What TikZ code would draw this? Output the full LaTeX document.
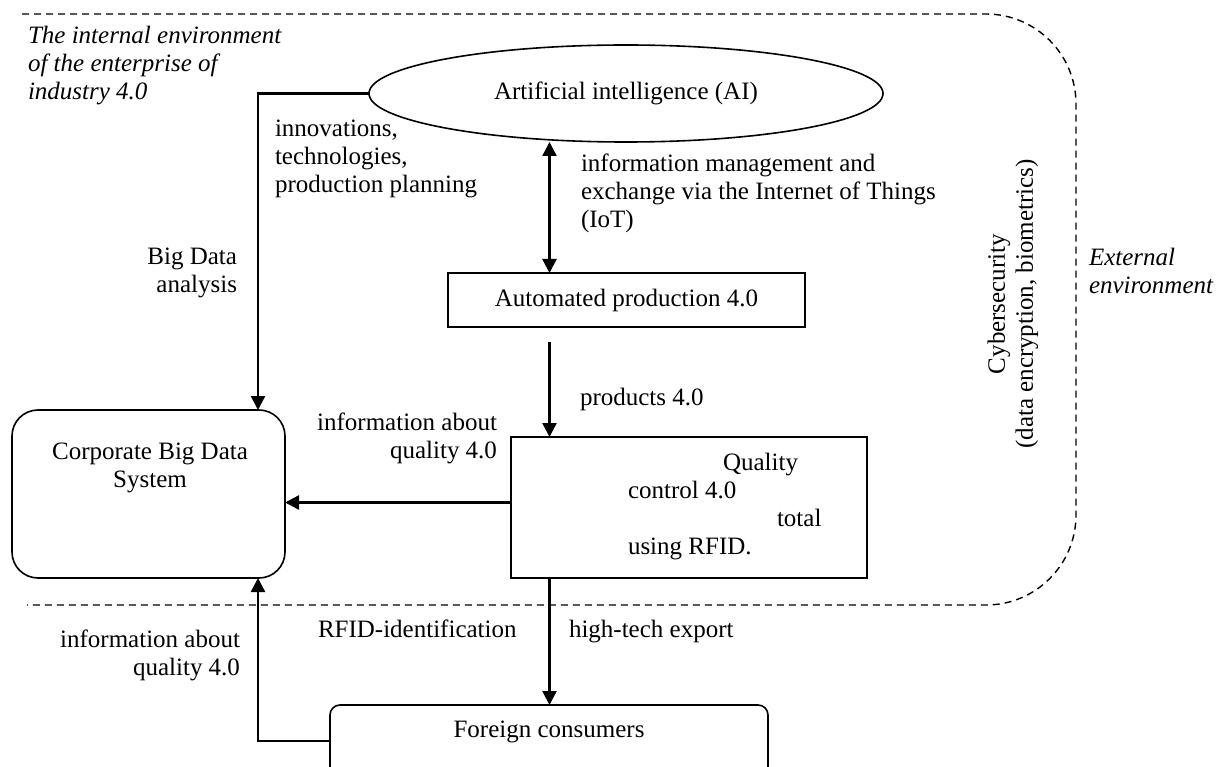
\documentclass[tikz,border=0pt]{standalone}
\usepackage{fontspec}
\setmainfont{Liberation Serif}
\usetikzlibrary{arrows.meta,shapes.geometric}
\begin{document}
\begin{tikzpicture}[x=1pt,y=-1pt,
  every node/.style={font=\fontsize{25}{28}\selectfont, inner sep=0pt, outer sep=0pt},
  frame/.style={draw, line width=1.6pt},
  conn/.style={line width=2.4pt},
  arr/.style={conn, -{Triangle[length=14pt,width=14pt]}},
  darr/.style={conn, {Triangle[length=14pt,width=14pt]}-{Triangle[length=14pt,width=14pt]}},
  envline/.style={line width=1.4pt, dash pattern=on 7pt off 5pt},
  italic/.style={font=\fontsize{25}{28}\selectfont\itshape},
]
\useasboundingbox (0,0) rectangle (1218,767);
% environment boundary
\draw[envline, rounded corners=90pt] (22,14) -- (1076,14) -- (1076,605) -- (27,605);
% helper coordinates
\coordinate (kx) at (258,0);
\coordinate (ax) at (549.5,0);
\coordinate (hy) at (0,502.5);
\coordinate (fcy) at (0,741);
\coordinate (pstart) at (549.5,342);
% main nodes
\node[frame, ellipse, minimum width=514pt, minimum height=97pt] (ai) at (626,93.5) {Artificial intelligence (AI)};
\node[frame, minimum width=357pt, minimum height=54pt] (auto) at (626.5,300) {Automated production 4.0};
\node[frame, rounded corners=26pt, minimum width=273pt, minimum height=168pt] (corp) at (148.5,494) {};
\node[align=center, anchor=base] (corpt) at (150,487) {Corporate Big Data\\System};
\node[frame, minimum width=356pt, minimum height=141pt] (qual) at (689,507.5) {};
\node[align=left, anchor=base west] (qualt) at (628,554) {\hspace*{95pt}Quality\\control 4.0\\\hspace*{149pt}total\\using RFID.};
\node[frame, rounded corners=10pt, minimum width=438pt, minimum height=110pt, anchor=north west] (fc) at (330,705) {};
\node[anchor=base] (fct) at (549,737) {Foreign consumers};
% connectors
\draw[arr] (ai.west) -| (corp.north -| kx);
\draw[darr] (ai.south -| ax) -- (auto.north -| ax);
\draw[arr] (pstart) -- (qual.north -| ax);
\draw[arr] (qual.west |- hy) -- (corp.east |- hy);
\draw[arr] (qual.south -| ax) -- (fc.north -| ax);
\draw[arr] (fc.west |- fcy) -| (corp.south -| kx);
% labels
\node[italic, align=left, anchor=base west] (intenv) at (28,100) {The internal environment\\of the enterprise of\\industry 4.0};
\node[italic, align=left, anchor=base west] (extenv) at (1089,294) {External\\environment};
\node[rotate=90, align=center] (cyber) at (1013,304) {Cybersecurity\\(data encryption, biometrics)};
\node[align=left, anchor=base west] (l1) at (275,193) {innovations,\\technologies,\\production planning};
\node[align=left, anchor=base west] (l2) at (581,228) {information management and\\exchange via the Internet of Things\\(IoT)};
\node[align=right, anchor=base east] (l3) at (237,293) {Big Data\\analysis};
\node[align=right, anchor=base east] (l4) at (497,458) {information about\\quality 4.0};
\node[anchor=base west] (l5) at (580,405) {products 4.0};
\node[anchor=base west] (l6) at (318,637) {RFID-identification};
\node[anchor=base west] (l7) at (569,637) {high-tech export};
\node[align=right, anchor=base east] (l8) at (240,675) {information about\\quality 4.0};
\end{tikzpicture}
\end{document}
